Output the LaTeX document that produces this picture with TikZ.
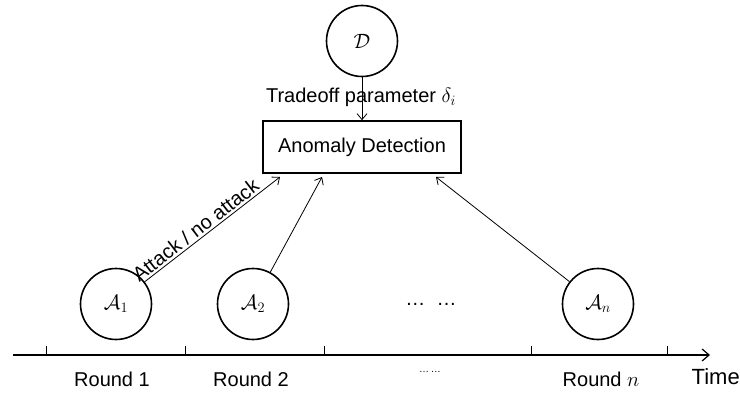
\documentclass[tikz,border=0pt]{standalone}
\usepackage{fontspec}
\setmainfont{Liberation Sans}
\usetikzlibrary{arrows.meta}
\begin{document}
\begin{tikzpicture}[x=1pt,y=-1pt,
  agent/.style={circle,draw,line width=1.6pt,minimum size=71pt,inner sep=0pt,font=\fontsize{21}{24}\selectfont},
  detbox/.style={rectangle,draw,line width=1.6pt,minimum width=198pt,minimum height=52pt,font=\fontsize{20}{24}\selectfont},
  link/.style={line width=0.8pt,-{Straight Barb[length=6pt,width=10pt]}},
  lbl/.style={font=\fontsize{20}{24}\selectfont,inner sep=1pt},
  axis/.style={line width=1.2pt,-{Straight Barb[length=7pt,width=12pt]}},
  tick/.style={line width=0.8pt}]
\useasboundingbox (0,0) rectangle (740,396);

% decision maker and detector
\node[agent] (D) at (362,41) {$\mathcal{D}$};
\node[detbox] (det) at (362,147) {Anomaly Detection};
\node[lbl] (trade) at (361,97) {Tradeoff parameter $\delta_i$};

% attackers in each round
\node[agent] (a1) at (116,304) {$\mathcal{A}_1$};
\node[agent] (a2) at (253,304) {$\mathcal{A}_2$};
\node[agent] (an) at (598,304) {$\mathcal{A}_n$};
\node[lbl] (adots) at (431,304) {\dots\ \ \dots};

% target points on the lower edge of the detector
\coordinate (t1) at (280,177);
\coordinate (t2) at (322,177);
\coordinate (tn) at (436,177);

\draw[link] (D) -- (det);
\draw[link] (a1) -- (t1) node[pos=0.42,above,sloped,lbl,inner sep=2pt] {Attack / no attack};
\draw[link] (a2) -- (t2);
\draw[link] (an) -- (tn);

% time axis
\coordinate (ax0) at (13,355);
\coordinate (ax1) at (710,355);
\draw[axis] (ax0) -- (ax1);
\foreach \x/\n in {46/k1,185/k2,324/k3,531/k4,667/k5}{
  \coordinate (\n) at (\x,355);
  \draw[tick] (\n) -- ++(0,-9);
}
\node[lbl] (r1) at (112,379) {Round 1};
\node[lbl] (r2) at (251,379) {Round 2};
\node[lbl,font=\fontsize{10}{12}\selectfont] (rdots) at (430,372) {\dots\,\dots};
\node[lbl] (rn) at (601,379) {Round $n$};
\node[lbl,font=\fontsize{22}{26}\selectfont,anchor=east] (time) at (741,377) {Time};
\end{tikzpicture}
\end{document}
